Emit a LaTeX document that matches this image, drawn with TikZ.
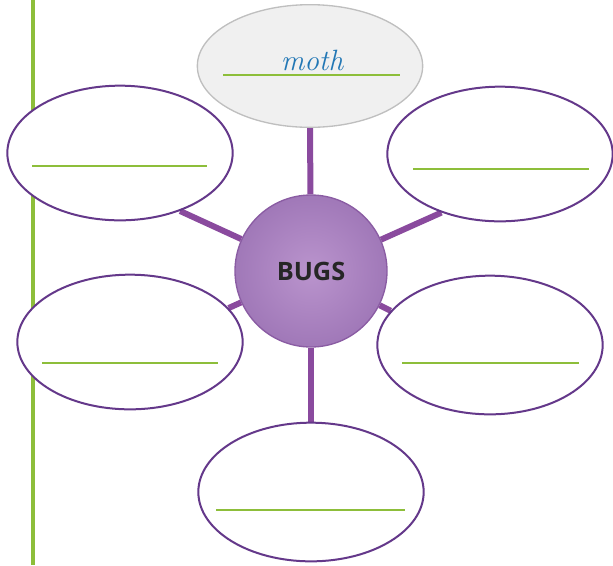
\documentclass[tikz,border=0pt]{standalone}
\usepackage{fontspec}
\newfontfamily\bugfont{Open Sans}
\usetikzlibrary{shapes.geometric,backgrounds,calc}
\definecolor{cRim}{HTML}{64388A}
\definecolor{cStem}{HTML}{8A4A9E}
\definecolor{cHubL}{HTML}{BA94CD}
\definecolor{cHubM}{HTML}{A078B8}
\definecolor{cHubD}{HTML}{8A5CA3}
\definecolor{cAns}{HTML}{8DBE3A}
\definecolor{cInk}{HTML}{2277B5}
\tikzset{
  bubble/.style={ellipse,draw=cRim,line width=1.5pt,fill=white,inner sep=0pt,minimum width=169pt,minimum height=101pt},
  seed/.style={bubble,draw=black!25,line width=1pt,fill=black!6,minimum height=92pt},
  hubball/.style={circle,draw=cHubD,line width=1pt,inner sep=0pt,minimum size=114pt,inner color=cHubL,outer color=cHubM,font=\bugfont\bfseries\fontsize{19}{19}\selectfont,text=black!85},
  stem/.style={line width=4.5pt,cStem},
  ansline/.style={line width=1.5pt,cAns},
  marginline/.style={line width=2.6pt,cAns},
  lbl/.style={font=\itshape\fontsize{22}{22}\selectfont,text=cInk},
}

\begin{document}
\begin{tikzpicture}[x=0.75pt,y=-0.75pt]
  \useasboundingbox (0,0) rectangle (613,565);
  % ---------------- the web
  \node[hubball] (bugs) at (311,271) {BUGS};
  \node[seed] (top) at (310,66) {};
  \node[bubble] (lt) at (120,153) {};
  \node[bubble] (rt) at (500,154) {};
  \node[bubble] (lb) at (130,342) {};
  \node[bubble,minimum height=104pt] (rb) at (490,345) {};
  \node[bubble,minimum height=104pt] (bot) at (311,492) {};
  % answer lines
  \foreach \n/\dx/\dy/\len in {top/-87/9/177,lt/-88/13/175,rt/-87/15/176,lb/-88/21/176,rb/-88/18/177,bot/-95/18/189}{
    \draw[ansline] ($(\n.center)+(\dx,\dy)$) -- ++(\len,0);
  }
  \node[lbl,anchor=base] (moth) at ($(top.center)+(2,4)$) {moth};
  % ---------------- behind the bubbles
  \begin{scope}[on background layer]
    \draw[marginline] (33,0) -- (33,565);
    \draw[stem] (bugs) -- (top.south);
    \draw[stem] (bugs) -- (bot.north);
    \draw[stem] (bugs) -- (lt.-44);
    \draw[stem] (bugs) -- (rt.-135);
    \draw[stem] (bugs) -- (lb.19);
    \draw[stem] (bugs) -- (rb.161);
  \end{scope}
\end{tikzpicture}
\end{document}
